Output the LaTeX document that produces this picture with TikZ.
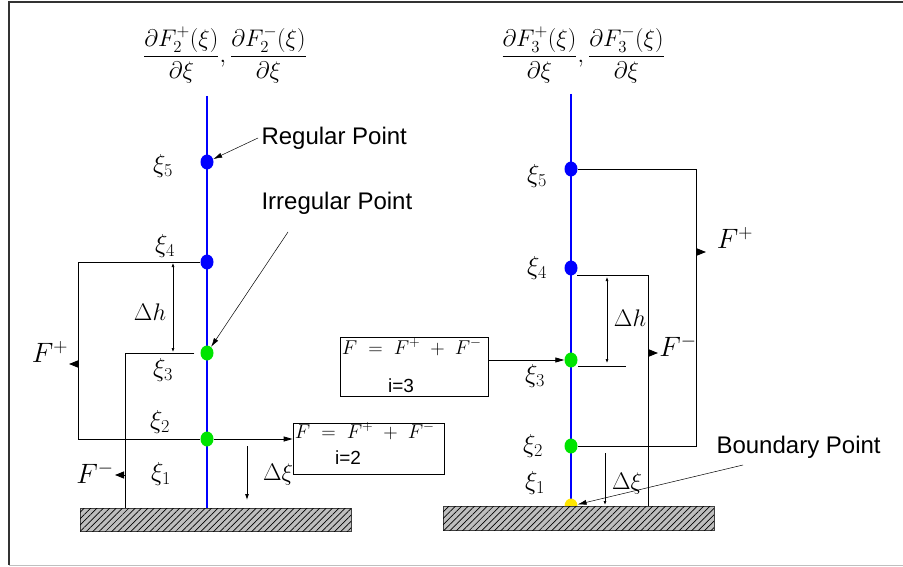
\RequirePackage{fix-cm}
\documentclass[tikz,border=0pt]{standalone}
\usepackage{amsmath,amssymb}
\usepackage{fontspec}
\setmainfont{Liberation Sans}
\usetikzlibrary{arrows.meta,calc,positioning,patterns.meta,shapes.geometric}
\definecolor{AxisBlue}{HTML}{0000FF}
\definecolor{IrregGreen}{HTML}{00E400}
\definecolor{BoundYellow}{HTML}{FFE600}
\definecolor{GroundGray}{HTML}{BEBEBE}
\tikzset{
  gridpt/.style={ellipse, inner sep=0pt, minimum width=13pt, minimum height=15pt, fill=#1},
  flux/.style={line width=0.8pt},
  fluxtip/.style={line width=0.8pt, -{Triangle[length=9pt,width=7pt]}},
  dimline/.style={line width=0.6pt, {Latex[length=4pt,width=3pt]}-{Latex[length=4pt,width=3pt]}},
  pointer/.style={line width=0.5pt, -{Latex[length=9pt,width=5pt]}},
  ground/.style={draw=black!75, line width=0.8pt, fill=GroundGray,
    postaction={pattern={Lines[angle=45,distance=4.5pt,line width=0.7pt]}}},
  annot/.style={anchor=west, font=\fontsize{24}{28}\selectfont},
  xilbl/.style={font=\fontsize{26}{30}\selectfont},
  dimlbl/.style={font=\fontsize{24}{28}\selectfont},
  fluxlbl/.style={font=\fontsize{28}{32}\selectfont},
  headlbl/.style={font=\fontsize{24}{28}\selectfont},
  fbox/.style={draw, line width=0.8pt, inner sep=0pt},
  boxeq/.style={anchor=north west, font=\fontsize{20}{22}\selectfont, inner sep=1pt}
}

\begin{document}
\begin{tikzpicture}[x=1pt,y=-1pt]
  \useasboundingbox (0,0) rectangle (903,567);
  % frame
  \draw[black!80, line width=1.2pt] (903,2) -- (9,2) -- (9,565);
  \draw[black!25, line width=1pt] (9,565) -- (903,565);

  % ---------- left column (i=2) ----------
  \coordinate (Ltop) at (207,96);
  \coordinate (Lbot) at (207,508);
  \draw[AxisBlue, line width=2.5pt] (Ltop) -- (Lbot);
  \node[headlbl] (Lhead) at (225,55)
    {$\dfrac{\partial F_2^{+}(\xi)}{\partial\xi},\dfrac{\partial F_2^{-}(\xi)}{\partial\xi}$};
  \foreach \n/\y/\c in {5/162/AxisBlue, 4/262/AxisBlue, 3/353/IrregGreen, 2/439/IrregGreen}
    \node[gridpt=\c] (L\n) at (207,\y) {};
  \foreach \n/\x/\y in {5/163/166, 4/165/246, 3/163/370, 2/160/422, 1/161/474}
    \node[xilbl] (Lxi\n) at (\x,\y) {$\xi_{\n}$};

  \coordinate (LcornA) at (78,262);
  \coordinate (LcornB) at (125,353);
  \draw[flux] (L4) -- (LcornA) |- (L2);
  \draw[flux] ([xshift=-6pt]L3.west) -- (LcornB) -- (LcornB |- Lbot);
  \draw[fluxtip] (79,364) -- ++(-10,0);
  \draw[fluxtip] (125,475) -- ++(-10,0);
  \node[fluxlbl] (LFp) at (50,352) {$F^{+}$};
  \node[fluxlbl] (LFm) at (95,473) {$F^{-}$};

  \draw[dimline] (173,263) -- (173,352);
  \node[dimlbl] (Ldh) at (150,312) {$\Delta h$};
  \draw[flux, -{Latex[length=6pt,width=4pt]}] (247,446) -- (247,500);
  \node[dimlbl] (Ldxi) at (278,474) {$\Delta\xi$};

  \node[fbox, minimum width=151pt, minimum height=51pt] (Lbox) at (368.5,448.5) {};
  \node[boxeq] (LboxF) at ([xshift=1pt,yshift=1pt]Lbox.north west) {$F \;=\; F^{+} \;+\; F^{-}$};
  \node[font=\fontsize{19}{21}\selectfont, inner sep=0pt] (LboxI) at (348,458) {i=2};
  \draw[flux, -{Triangle[length=9pt,width=5pt]}] (L2) -- (L2 -| Lbox.west);

  \node[annot] (RegTxt) at (258,138) {Regular Point};
  \draw[pointer] (RegTxt.west) -- (L5);
  \node[annot] (IrrTxt) at (258,203) {Irregular Point};
  \coordinate (IrrTail) at (288,232);
  \draw[pointer] (IrrTail) -- (L3);

  \draw[ground] (80,508) rectangle (351,531);

  % ---------- right column (i=3) ----------
  \coordinate (Rtop) at (571,94);
  \coordinate (Rbot) at (571,508);
  \draw[AxisBlue, line width=2.5pt] (Rtop) -- (Rbot);
  \node[headlbl] (Rhead) at (583,55)
    {$\dfrac{\partial F_3^{+}(\xi)}{\partial\xi},\dfrac{\partial F_3^{-}(\xi)}{\partial\xi}$};
  \node[gridpt=BoundYellow] (R1) at (571,506) {};
  \foreach \n/\y/\c in {5/169/AxisBlue, 4/268/AxisBlue, 3/360/IrregGreen, 2/446/IrregGreen}
    \node[gridpt=\c] (R\n) at (571,\y) {};
  \foreach \n/\x/\y in {5/537/176, 4/537/268, 3/535/376, 2/533/446, 1/535/483}
    \node[xilbl] (Rxi\n) at (\x,\y) {$\xi_{\n}$};

  \coordinate (RcornA) at (696,169);
  \coordinate (RcornB) at (648,275);
  \draw[flux] (R5) -- (RcornA) |- (R2);
  \draw[flux] ([xshift=6pt,yshift=-7pt]R4.center) -- (RcornB) -- (RcornB |- Rbot);
  \draw[fluxtip] (696,252) -- ++(10,0);
  \draw[fluxtip] (648,353) -- ++(10,0);
  \node[fluxlbl] (RFp) at (735,238) {$F^{+}$};
  \node[fluxlbl] (RFm) at (678,346) {$F^{-}$};

  \draw[dimline] (607,277) -- (607,363);
  \draw[flux] ([xshift=7pt,yshift=-6pt]R3.center) -- ++(48,0);
  \node[dimlbl] (Rdh) at (630,318) {$\Delta h$};
  \draw[flux, -{Latex[length=4pt,width=3pt]}] (605,453) -- (605,505);
  \node[dimlbl] (Rdxi) at (627,483) {$\Delta\xi$};

  \node[fbox, minimum width=148pt, minimum height=59pt] (Rbox) at (414,366.5) {};
  \node[boxeq] (RboxF) at ([xshift=1pt,yshift=-1pt]Rbox.north west) {$F \;=\; F^{+} \;+\; F^{-}$};
  \node[font=\fontsize{19}{21}\selectfont, inner sep=0pt] (RboxI) at (401,386) {i=3};
  \draw[flux, -{Triangle[length=9pt,width=5pt]}] (Rbox.east |- R3) -- (R3);

  \node[annot] (BndTxt) at (713,447) {Boundary Point};
  \coordinate (BndTail) at (743,465);
  \draw[pointer] (BndTail) -- (R1);

  \draw[ground] (443,506) rectangle (714,530);
\end{tikzpicture}
\end{document}
